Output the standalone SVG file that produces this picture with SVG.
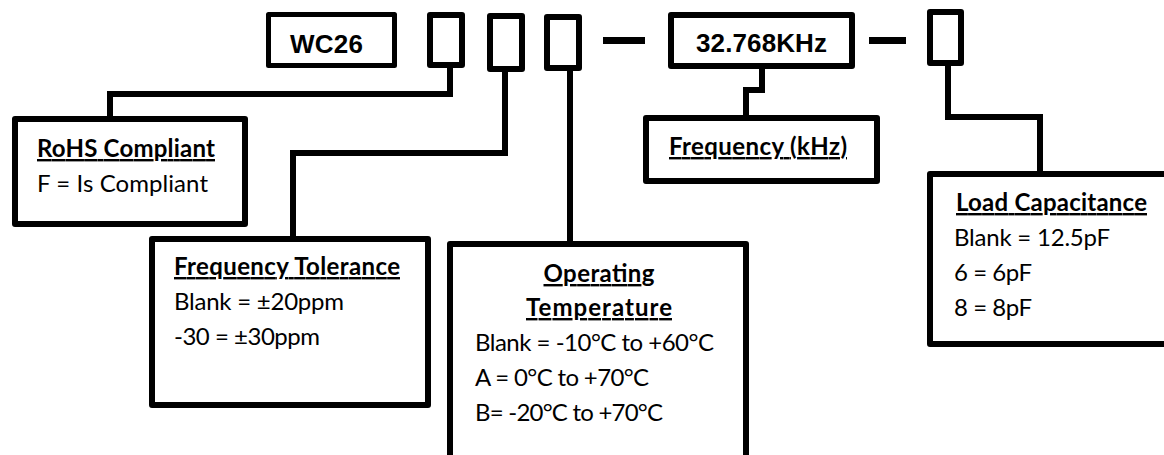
<svg xmlns="http://www.w3.org/2000/svg" width="1164" height="455" viewBox="0 0 1164 455">
  <style>
    .box { fill: #ffffff; stroke: #000000; stroke-width: 6; stroke-linejoin: round; }
    .thin { stroke-width: 5; }
    .conn { fill: none; stroke: #000000; stroke-width: 6; stroke-linejoin: miter; stroke-linecap: butt; }
    .code { font-family: "Liberation Sans", Arial, sans-serif; font-weight: bold; font-size: 26px; fill: #000000; }
    .hd { font-family: Lato, "Liberation Sans", sans-serif; font-weight: bold; font-size: 24px; fill: #000000; text-decoration: underline; }
    .tx { font-family: Lato, "Liberation Sans", sans-serif; font-size: 24px; fill: #000000; }
  </style>
  <rect x="0" y="0" width="1164" height="455" fill="#ffffff"/>

  <g id="connectors">
    <path class="conn" d="M450,68 V94 H110 V119"/>
    <path class="conn" d="M505,72 V153 H293 V239"/>
    <path class="conn" d="M570,71 V244"/>
    <path class="conn" d="M762,69 V90 H746 V118"/>
    <path class="conn" d="M948,66 V117 H1040 V174"/>
    <line class="conn" x1="603" y1="40.5" x2="645" y2="40.5" style="stroke-width:7"/>
    <line class="conn" x1="869" y1="40.5" x2="906" y2="40.5" style="stroke-width:7"/>
  </g>

  <g id="code-wc26">
    <rect class="box thin" x="268.5" y="14.5" width="126" height="51"/>
    <text class="code" x="290" y="53" textLength="73">WC26</text>
  </g>
  <g id="slot-rohs">
    <rect class="box" x="430" y="15" width="32" height="50"/>
  </g>
  <g id="slot-tolerance">
    <rect class="box" x="490" y="16" width="32" height="53"/>
  </g>
  <g id="slot-temperature">
    <rect class="box" x="547" y="17" width="32" height="51"/>
  </g>
  <g id="code-frequency">
    <rect class="box" x="671" y="15" width="181" height="51"/>
    <text class="code" x="696" y="52" textLength="131">32.768KHz</text>
  </g>
  <g id="slot-load">
    <rect class="box" x="930" y="12" width="31" height="51"/>
  </g>

  <g id="rohs">
    <rect class="box" x="15" y="119" width="230" height="105"/>
    <text class="hd" x="37" y="157" textLength="178">RoHS Compliant</text>
    <text class="tx" x="37" y="192" textLength="171">F = Is Compliant</text>
  </g>

  <g id="frequency-tolerance">
    <rect class="box" x="152" y="239" width="276" height="166"/>
    <text class="hd" x="174" y="275" textLength="226">Frequency Tolerance</text>
    <text class="tx" x="174" y="310" textLength="170">Blank = ±20ppm</text>
    <text class="tx" x="174" y="345" textLength="146">-30 = ±30ppm</text>
  </g>

  <g id="operating-temperature">
    <rect class="box" x="450" y="244" width="296" height="240"/>
    <text class="hd" x="599" y="282" text-anchor="middle" textLength="111">Operating</text>
    <text class="hd" x="599" y="316" text-anchor="middle" textLength="146">Temperature</text>
    <text class="tx" x="475" y="351" textLength="239">Blank = -10°C to +60°C</text>
    <text class="tx" x="475" y="386" textLength="174">A = 0°C to +70°C</text>
    <text class="tx" x="475" y="421" textLength="188">B= -20°C to +70°C</text>
  </g>

  <g id="frequency">
    <rect class="box" x="646" y="118" width="231" height="63"/>
    <text class="hd" x="669" y="155" textLength="178">Frequency (kHz)</text>
  </g>

  <g id="load-capacitance">
    <rect class="box" x="930" y="174" width="260" height="170"/>
    <text class="hd" x="956" y="211" textLength="191">Load Capacitance</text>
    <text class="tx" x="954" y="246" textLength="156">Blank = 12.5pF</text>
    <text class="tx" x="954" y="281" textLength="78">6 = 6pF</text>
    <text class="tx" x="954" y="316" textLength="78">8 = 8pF</text>
  </g>
</svg>
